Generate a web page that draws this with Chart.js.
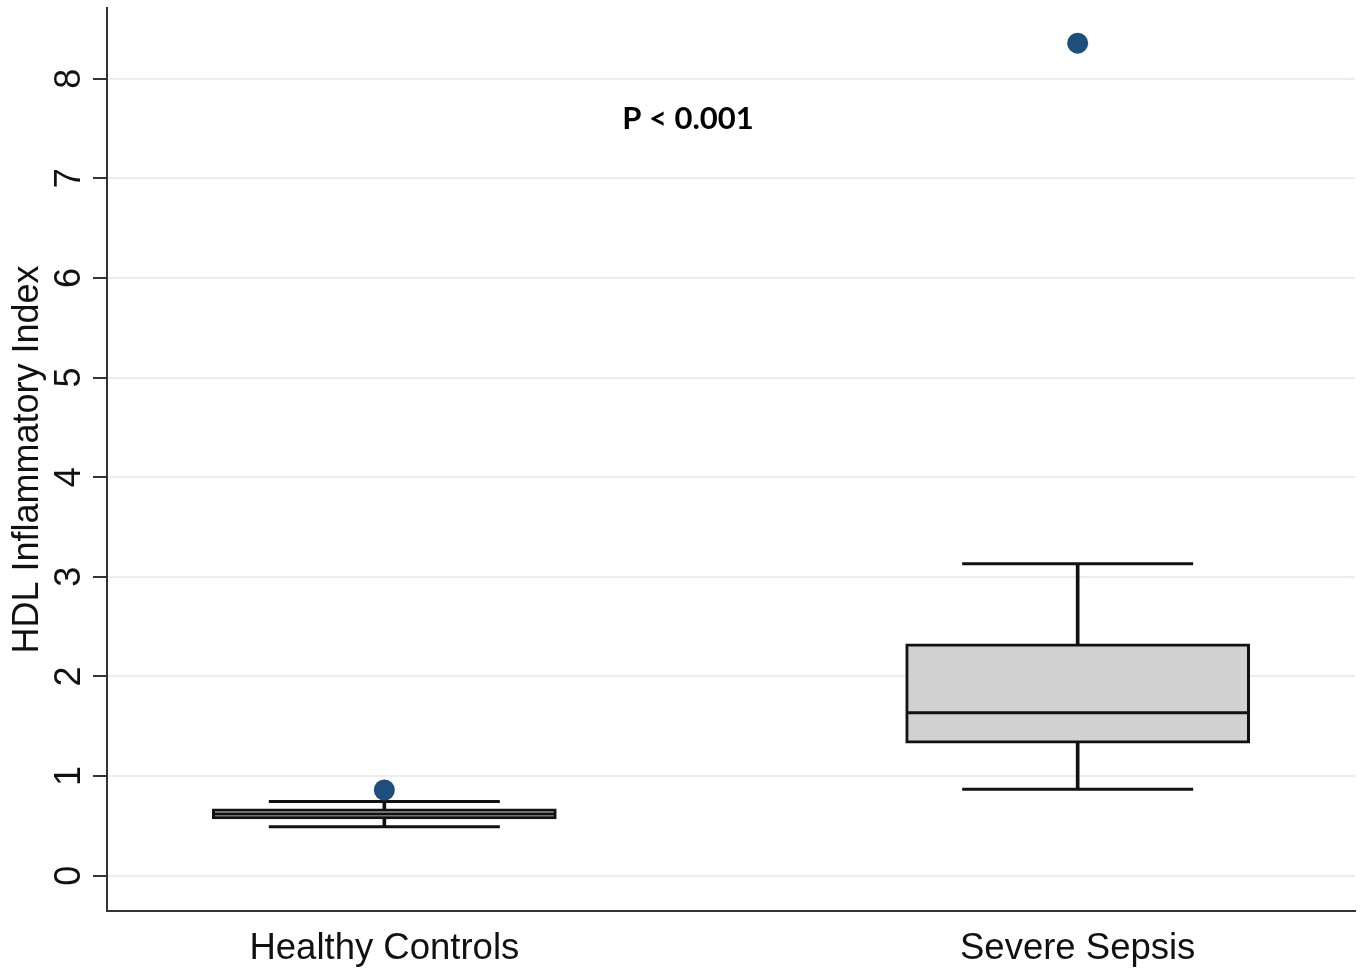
<!DOCTYPE html>
<html>
<head>
<meta charset="utf-8">
<title>HDL Inflammatory Index</title>
<script src="https://cdn.jsdelivr.net/npm/chart.js@4.4.1/dist/chart.umd.min.js"></script>
<style>
  html, body { margin: 0; padding: 0; background: #ffffff; }
  #wrap { position: relative; width: 1363px; height: 973px; }
</style>
</head>
<body>
<div id="wrap"><canvas id="chart"></canvas></div>
<script>
// Groups and their box-plot summaries (HDL inflammatory index)
const categories   = ['Healthy Controls', 'Severe Sepsis'];
const whiskerLow   = [0.49, 0.867];
const quartile1    = [0.57, 1.33];
const medians      = [0.62, 1.634];
const quartile3    = [0.67, 2.326];
const whiskerHigh  = [0.743, 3.13];
const outliers     = [0.86, 8.357];

// Axis ticks
const yTicks = [0, 1, 2, 3, 4, 5, 6, 7, 8];

// Significance note, placed in data coordinates
const pLabel = 'P < 0.001';
const pPosition = [0.438, 7.6];

const xs = categories.map((_, i) => i);
const ink = '#111111';

// Vertical y tick labels and the p-value note
const annotations = {
  id: 'annotations',
  afterDraw(chart) {
    const { ctx, scales: { x, y } } = chart;
    ctx.save();
    ctx.fillStyle = ink;
    ctx.font = '36px "Liberation Sans"';
    ctx.textAlign = 'center';
    ctx.textBaseline = 'alphabetic';
    y.ticks.forEach(t => {
      const py = y.getPixelForValue(t.value);
      ctx.save();
      ctx.translate(80, py);
      ctx.rotate(-Math.PI / 2);
      ctx.fillText(String(t.value), 0, 0);
      ctx.restore();
    });
    ctx.fillStyle = '#000';
    ctx.font = 'bold 31px Lato';
    ctx.textBaseline = 'middle';
    ctx.fillText(pLabel, x.getPixelForValue(pPosition[0]), y.getPixelForValue(pPosition[1]));
    ctx.restore();
  }
};

function draw() {
  new Chart(document.getElementById('chart'), {
    type: 'bar',
    data: {
      datasets: [
        {
          type: 'scatter',
          label: 'Outliers',
          data: xs.map((x, i) => ({ x, y: outliers[i] })),
          pointRadius: 10.5,
          pointHoverRadius: 10.5,
          pointBackgroundColor: '#1d4e7c',
          pointBorderWidth: 0,
          order: 0
        },
        {
          type: 'scatter',
          label: 'Median',
          data: xs.map((x, i) => ({ x, y: medians[i] })),
          pointStyle: 'line',
          pointRadius: 171,
          pointHoverRadius: 171,
          pointBorderColor: ink,
          pointBorderWidth: 3,
          order: 1
        },
        {
          type: 'scatter',
          label: 'Whisker caps',
          data: xs.flatMap((x, i) => [{ x, y: whiskerLow[i] }, { x, y: whiskerHigh[i] }]),
          pointStyle: 'line',
          pointRadius: 115.5,
          pointHoverRadius: 115.5,
          pointBorderColor: ink,
          pointBorderWidth: 3,
          order: 2
        },
        {
          type: 'bar',
          label: 'Interquartile range',
          data: xs.map((x, i) => ({ x, y: [quartile1[i], quartile3[i]] })),
          backgroundColor: '#d1d1d1',
          borderColor: ink,
          borderWidth: 3,
          borderSkipped: false,
          grouped: false,
          barThickness: 344,
          maxBarThickness: 344,
          order: 3
        },
        {
          type: 'bar',
          label: 'Whiskers',
          data: xs.map((x, i) => ({ x, y: [whiskerLow[i], whiskerHigh[i]] })),
          backgroundColor: ink,
          borderWidth: 0,
          grouped: false,
          barThickness: 3,
          maxBarThickness: 3,
          order: 4
        }
      ]
    },
    options: {
      responsive: false,
      animation: false,
      events: [],
      layout: { autoPadding: false, padding: { top: 8, right: 8, left: 0, bottom: 0 } },
      plugins: {
        legend: { display: false },
        tooltip: { enabled: false }
      },
      scales: {
        x: {
          type: 'linear',
          min: -0.4,
          max: 1.4,
          offset: false,
          afterBuildTicks: s => { s.ticks = xs.map(v => ({ value: v })); },
          afterFit: s => { s.height = 62; },
          grid: { display: false, drawTicks: false, offset: false },
          border: { display: true, color: '#333333', width: 2 },
          ticks: {
            callback: v => categories[v] ?? '',
            font: { family: 'Liberation Sans', size: 36.5 },
            color: ink,
            padding: 16,
            maxRotation: 0,
            autoSkip: false
          }
        },
        y: {
          type: 'linear',
          min: -0.355,
          max: 8.71,
          afterBuildTicks: s => { s.ticks = yTicks.map(v => ({ value: v })); },
          afterFit: s => { s.width = 107; },
          grid: {
            color: '#e7eff1',
            lineWidth: 2,
            drawTicks: true,
            tickColor: '#333333',
            tickLength: 14,
            tickWidth: 2
          },
          border: { display: true, color: '#333333', width: 2 },
          ticks: { display: false },
          title: {
            display: true,
            text: 'HDL Inflammatory Index',
            font: { family: 'Liberation Sans', size: 36 },
            color: ink,
            padding: { top: 6, bottom: 0 }
          }
        }
      }
    },
    plugins: [annotations]
  });
}

const canvas = document.getElementById('chart');
canvas.width = 1363;
canvas.height = 973;

Promise.all([
  document.fonts.load('36px "Liberation Sans"'),
  document.fonts.load('bold 31px Lato')
]).then(draw, draw);
</script>
</body>
</html>
